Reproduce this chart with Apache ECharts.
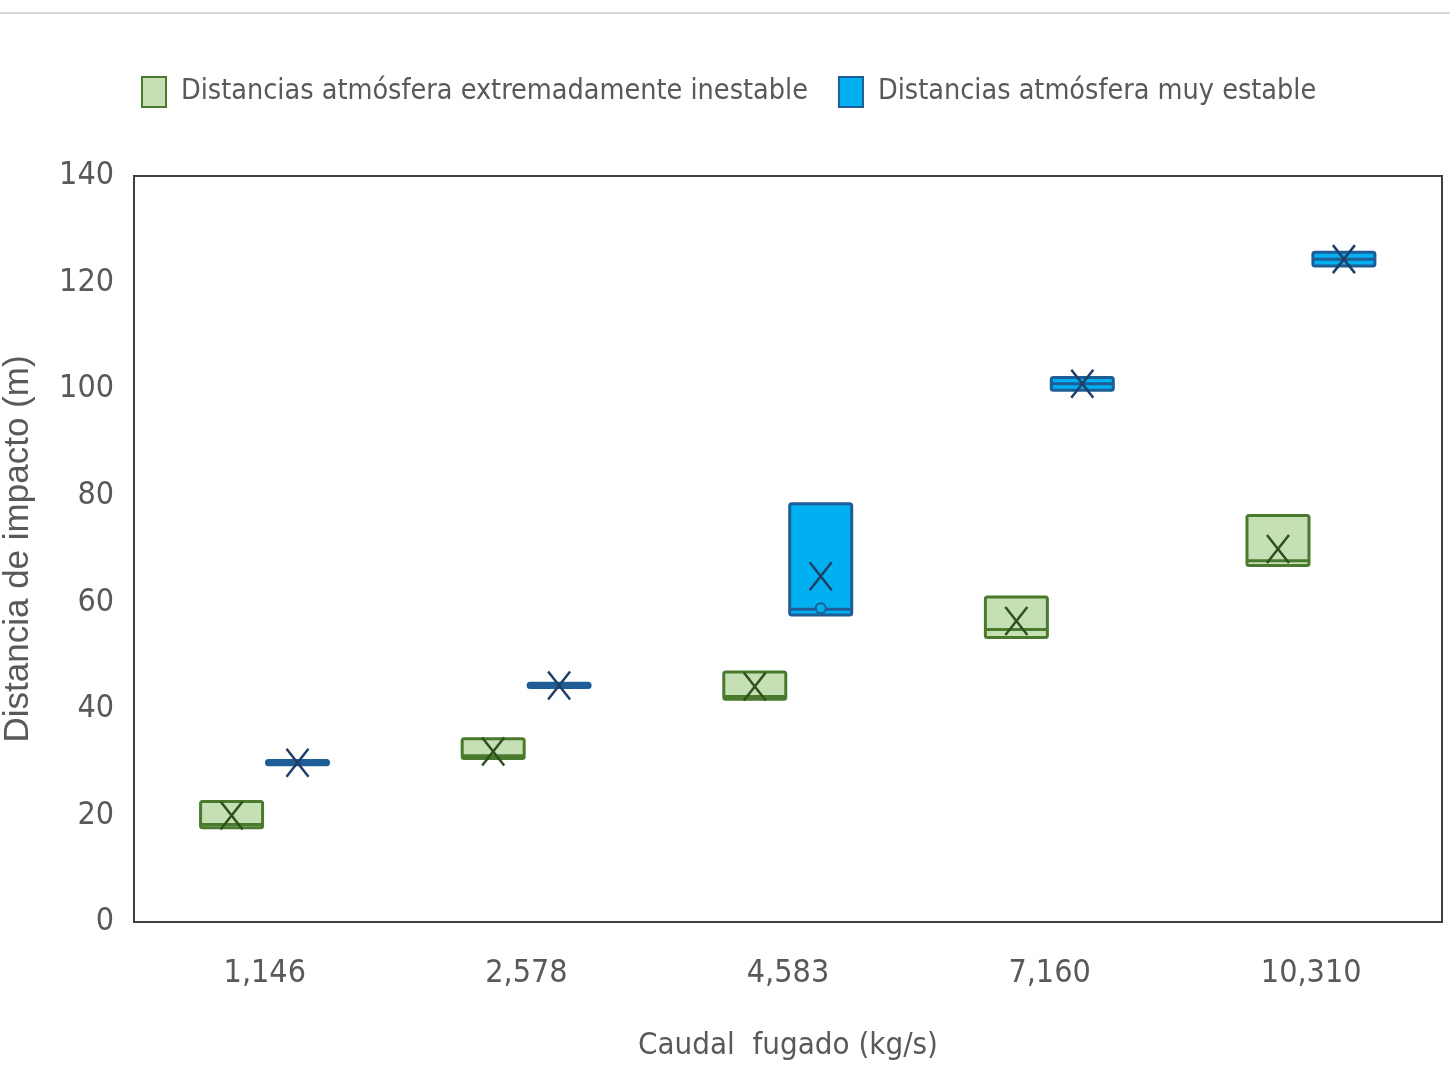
<!DOCTYPE html>
<html>
<head>
<meta charset="utf-8">
<script src="https://cdn.jsdelivr.net/npm/echarts@6/dist/echarts.min.js"></script>
<style>
html,body{margin:0;padding:0;background:#fff;}
#chart{width:1450px;height:1071px;}
</style>
</head>
<body>
<div id="chart"></div>
<script>
// ---- Data ----
const categories = ['1,146', '2,578', '4,583', '7,160', '10,310'];
const seriesNames = ['Distancias atmósfera extremadamente inestable', 'Distancias atmósfera muy estable'];
// Extremely unstable atmosphere: min, q1, median, q3, max, mean
const inestableMin    = [17.7, 30.7, 41.8, 53.4, 66.9];
const inestableQ1     = [17.7, 30.7, 41.8, 53.4, 66.9];
const inestableMedian = [18.3, 31.2, 42.3, 54.9, 67.8];
const inestableQ3     = [22.6, 34.4, 46.9, 61.0, 76.3];
const inestableMax    = [22.6, 34.4, 46.9, 61.0, 76.3];
const inestableMean   = [20.0, 32.0, 44.2, 56.5, 70.0];
// Very stable atmosphere
const estableMin    = [29.5, 44.0, 57.6, 99.8, 123.1];
const estableQ1     = [29.5, 44.0, 57.6, 99.8, 123.1];
const estableMedian = [29.9, 44.4, 58.7, 101.0, 124.4];
const estableQ3     = [30.3, 44.8, 78.5, 102.2, 125.7];
const estableMax    = [30.3, 44.8, 78.5, 102.2, 125.7];
const estableMean   = [29.9, 44.4, 64.9, 101.0, 124.4];
const estableInnerPoint = [null, null, 58.9, null, null];
const yTicks = [0, 20, 40, 60, 80, 100, 120, 140];

function buildRows(mn, q1, md, q3, mx, mean, inner) {
  return categories.map((c, i) => [i, mn[i], q1[i], md[i], q3[i], mx[i], mean[i], inner ? (inner[i] == null ? '-' : inner[i]) : '-']);
}

function makeRender(offsetFrac, widthFrac, fill, stroke, xColor) {
  return function (params, api) {
    const ci = api.value(0);
    const band = api.size([1, 0])[0];
    const cx = api.coord([ci, 0])[0] + band * offsetFrac;
    const w = band * widthFrac;
    const yMin = api.coord([ci, api.value(1)])[1];
    const yQ1 = api.coord([ci, api.value(2)])[1];
    const yMed = api.coord([ci, api.value(3)])[1];
    const yQ3 = api.coord([ci, api.value(4)])[1];
    const yMax = api.coord([ci, api.value(5)])[1];
    const yMean = api.coord([ci, api.value(6)])[1];
    const inner = api.value(7);
    const lw = { stroke: stroke, lineWidth: 3 };
    const children = [
      { type: 'line', shape: { x1: cx, y1: yQ3, x2: cx, y2: yMax }, style: lw },
      { type: 'line', shape: { x1: cx, y1: yQ1, x2: cx, y2: yMin }, style: lw },
      { type: 'rect', shape: { x: cx - w / 2, y: yQ3, width: w, height: Math.max(yQ1 - yQ3, 1), r: 2 },
        style: { fill: fill, stroke: stroke, lineWidth: 3 } },
      { type: 'line', shape: { x1: cx - w / 2, y1: yMed, x2: cx + w / 2, y2: yMed }, style: { stroke: stroke, lineWidth: 3 } },
      { type: 'line', shape: { x1: cx - 11, y1: yMean - 14, x2: cx + 11, y2: yMean + 14 }, style: { stroke: xColor, lineWidth: 2.5 } },
      { type: 'line', shape: { x1: cx + 11, y1: yMean - 14, x2: cx - 11, y2: yMean + 14 }, style: { stroke: xColor, lineWidth: 2.5 } }
    ];
    if (!isNaN(inner) && inner !== '-' && inner != null) {
      const yi = api.coord([ci, inner])[1];
      children.push({ type: 'circle', shape: { cx: cx, cy: yi, r: 5 }, style: { fill: fill, stroke: stroke, lineWidth: 2 } });
    }
    return { type: 'group', children: children };
  };
}

const greenFill = '#c5e0b4', greenStroke = '#4a7a2e', greenX = '#2f4f1d';
const blueFill = '#00b0f0', blueStroke = '#1f5d96', blueX = '#1f3f66';
const labelFont = '"DejaVu Sans Condensed", "Liberation Sans", sans-serif';

const chart = echarts.init(document.getElementById('chart'));
chart.setOption({
  backgroundColor: '#fff',
  animation: false,
  graphic: [{ type: 'line', shape: { x1: 0, y1: 13, x2: 1450, y2: 13 }, style: { stroke: '#d9d9d9', lineWidth: 2 } }],
  legend: {
    left: 136, top: 71,
    itemWidth: 24, itemHeight: 30, itemGap: 30,
    data: [
      { name: seriesNames[0], icon: 'rect', itemStyle: { color: greenFill, borderColor: greenStroke, borderWidth: 2 } },
      { name: seriesNames[1], icon: 'rect', itemStyle: { color: blueFill, borderColor: blueStroke, borderWidth: 2 } }
    ],
    textStyle: { fontFamily: labelFont, fontSize: 28.5, color: '#595959', padding: [0, 0, 0, 10] }
  },
  grid: { left: 134, right: 8, top: 176, bottom: 149, show: true, borderColor: '#404040', borderWidth: 2,
    containLabel: false, outerBoundsMode: 'none' },
  xAxis: {
    type: 'category', data: categories,
    axisLine: { show: true, lineStyle: { color: '#404040', width: 2 } },
    axisTick: { show: false },
    axisLabel: { fontFamily: labelFont, fontSize: 32, color: '#595959', margin: 36 },
    name: 'Caudal  fugado (kg/s)', nameLocation: 'middle', nameGap: 108,
    nameTextStyle: { fontFamily: labelFont, fontSize: 31, color: '#595959' }
  },
  yAxis: {
    type: 'value', min: 0, max: 140, interval: 20,
    axisLine: { show: true, lineStyle: { color: '#404040', width: 2 } },
    axisTick: { show: false },
    splitLine: { show: false },
    axisLabel: { fontFamily: labelFont, fontSize: 32, color: '#595959', margin: 20, padding: [12, 0, 0, 0],
      formatter: v => yTicks.includes(v) ? String(v) : '' },
    name: 'Distancia de impacto (m)', nameLocation: 'middle', nameGap: 98,
    nameTextStyle: { fontFamily: '"Liberation Sans", Arial, sans-serif', fontSize: 35, color: '#595959' }
  },
  series: [
    {
      name: seriesNames[0], type: 'custom',
      itemStyle: { color: greenFill, borderColor: greenStroke },
      renderItem: makeRender(-0.127, 0.237, greenFill, greenStroke, greenX),
      encode: { x: 0, y: [1, 2, 3, 4, 5, 6] },
      data: buildRows(inestableMin, inestableQ1, inestableMedian, inestableQ3, inestableMax, inestableMean, null)
    },
    {
      name: seriesNames[1], type: 'custom',
      itemStyle: { color: blueFill, borderColor: blueStroke },
      renderItem: makeRender(0.125, 0.237, blueFill, blueStroke, blueX),
      encode: { x: 0, y: [1, 2, 3, 4, 5, 6] },
      data: buildRows(estableMin, estableQ1, estableMedian, estableQ3, estableMax, estableMean, estableInnerPoint)
    }
  ]
});
</script>
</body>
</html>
